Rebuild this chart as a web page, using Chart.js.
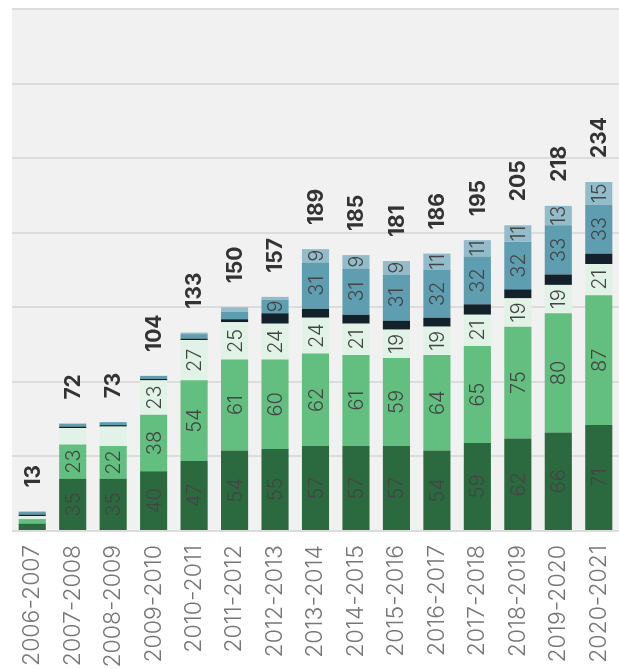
<!DOCTYPE html>
<html>
<head>
<meta charset="utf-8">
<script src="https://cdn.jsdelivr.net/npm/chart.js@4/dist/chart.umd.min.js"></script>
<style>
    html, body { margin: 0; padding: 0; background: #ffffff; }
    #wrap { width: 619px; height: 669px; }
</style>
</head>
<body>
<div id="wrap"><canvas id="barChart"></canvas></div>
<script>
const years = ['2006-2007', '2007-2008', '2008-2009', '2009-2010', '2010-2011', '2011-2012', '2012-2013',
    '2013-2014', '2014-2015', '2015-2016', '2016-2017', '2017-2018', '2018-2019', '2019-2020', '2020-2021'];

const darkGreen = [5, 35, 35, 40, 47, 54, 55, 57, 57, 57, 54, 59, 62, 66, 71];
const midGreen = [3, 23, 22, 38, 54, 61, 60, 62, 61, 59, 64, 65, 75, 80, 87];
const lightGreen = [2, 11, 13, 23, 27, 25, 24, 24, 21, 19, 19, 21, 19, 19, 21];
const blackPart = [1, 1, 1, 1, 1, 2, 7, 6, 6, 6, 6, 7, 6, 7, 7];
const bluePart = [2, 2, 2, 2, 3, 5, 9, 31, 31, 31, 32, 32, 32, 33, 33];
const lightBlue = [0, 0, 0, 0, 1, 3, 2, 9, 9, 9, 11, 11, 11, 13, 15];

const series = [darkGreen, midGreen, lightGreen, blackPart, bluePart, lightBlue];
const colors = ['#2b6a3f', '#62bf7f', '#e1f3e6', '#13222a', '#5f9eb1', '#93bccb'];
// smallest value that still gets a label inside its segment
const labelMin = [9, 9, 15, 999, 9, 9];

const labelFont = '300 20px Inter, Lato, sans-serif';

// grey plot background
const backgroundPlugin = {
    id: 'plotBackground',
    beforeDraw(chart) {
        const {ctx, chartArea} = chart;
        ctx.save();
        ctx.fillStyle = '#f1f1f1';
        ctx.fillRect(chartArea.left, chartArea.top, chartArea.right - chartArea.left, chartArea.bottom - chartArea.top);
        ctx.restore();
    }
};

// values inside the segments and totals above the bars
const labelPlugin = {
    id: 'barLabels',
    afterDatasetsDraw(chart) {
        const ctx = chart.ctx;
        ctx.save();
        chart.data.datasets.forEach((ds, i) => {
            const meta = chart.getDatasetMeta(i);
            meta.data.forEach((bar, j) => {
                const v = ds.data[j];
                if (v < labelMin[i]) return;
                const y = (bar.y + bar.base) / 2;
                ctx.save();
                ctx.translate(bar.x, y);
                ctx.rotate(-Math.PI / 2);
                ctx.font = labelFont;
                ctx.fillStyle = '#444444';
                ctx.textAlign = 'center';
                ctx.textBaseline = 'middle';
                ctx.fillText(String(v), 0, 1);
                ctx.restore();
            });
        });

        const last = chart.getDatasetMeta(series.length - 1);
        years.forEach((y, j) => {
            const total = series.reduce((s, arr) => s + arr[j], 0);
            const bar = last.data[j];
            ctx.save();
            ctx.translate(bar.x, bar.y - 24);
            ctx.rotate(-Math.PI / 2);
            ctx.font = '700 21px Inter, Lato, sans-serif';
            ctx.fillStyle = '#333333';
            ctx.textAlign = 'left';
            ctx.textBaseline = 'middle';
            ctx.fillText(String(total), 0, 1);
            ctx.restore();
        });
        ctx.restore();
    }
};

const ctx = document.getElementById('barChart').getContext('2d');
new Chart(ctx, {
    type: 'bar',
    data: {
        labels: years,
        datasets: series.map((arr, i) => ({
            data: arr,
            backgroundColor: colors[i],
            borderWidth: 0,
            barPercentage: 0.67,
            categoryPercentage: 1
        }))
    },
    options: {
        responsive: true,
        maintainAspectRatio: false,
        animation: false,
        layout: {
            padding: {left: 12, top: 9, right: 0, bottom: 0}
        },
        plugins: {
            legend: {display: false},
            tooltip: {enabled: false}
        },
        scales: {
            x: {
                stacked: true,
                grid: {display: false, drawTicks: false},
                border: {display: false},
                ticks: {
                    minRotation: 90,
                    maxRotation: 90,
                    padding: 14,
                    color: '#777777',
                    font: {family: 'Inter, Lato, sans-serif', size: 23, weight: 300}
                },
                afterFit(scale) {
                    scale.height = 138;
                    scale.paddingLeft = 0;
                    scale.paddingRight = 0;
                }
            },
            y: {
                stacked: true,
                min: 0,
                max: 350,
                ticks: {display: false, stepSize: 50},
                grid: {color: '#dcdcdc', lineWidth: 2, drawTicks: false},
                border: {display: false},
                afterFit(scale) {
                    scale.width = 0;
                }
            }
        }
    },
    plugins: [backgroundPlugin, labelPlugin]
});
</script>
</body>
</html>
